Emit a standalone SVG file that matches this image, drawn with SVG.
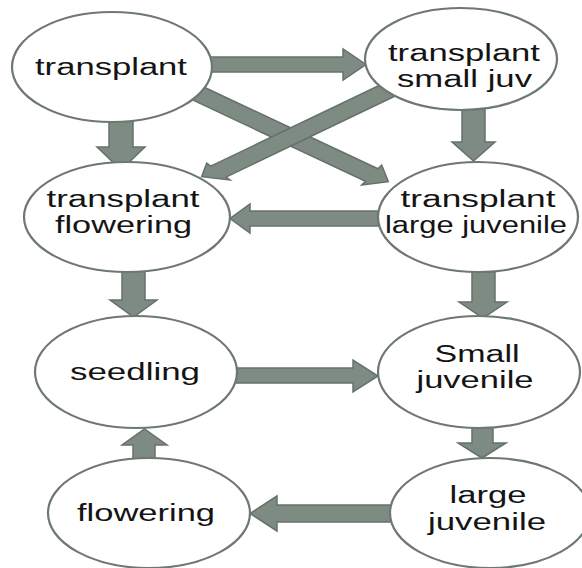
<svg xmlns="http://www.w3.org/2000/svg" width="582" height="568" viewBox="0 0 582 568">
<style>
.arrow{fill:#7e8b83;stroke:#66716b;stroke-width:1.5;stroke-linejoin:miter}
.node ellipse{fill:#ffffff;stroke:#6e7872;stroke-width:2.2}
.node text{font-family:"Liberation Sans",Arial,sans-serif;font-size:23px;fill:#141414;text-anchor:middle}
</style>
<rect width="582" height="568" fill="#ffffff"/>
<g id="connectors">
<polygon class="arrow" points="205,57 343,57 343,49 366,64.5 343,80 343,72 205,72"/>
<polygon class="arrow" points="109,118 133,118 133,147 145,147 121,170 97,147 109,147"/>
<polygon class="arrow" points="462,105 485,105 485,142 495,142 473.5,161 452,142 462,142"/>
<polygon class="arrow" points="380,211 250,211 250,204 230,218.5 250,233 250,226 380,226"/>
<polygon class="arrow" points="198.4,84.5 377.9,168.8 381.7,165 388.3,181.7 361.7,185 365.5,181.2 191.6,99.5"/>
<polygon class="arrow" points="388.5,81 210.7,166.2 206.7,163.3 201.7,176.7 230,180 226,177.1 395.5,95.8"/>
<polygon class="arrow" points="122,268 145,268 145,300 157,300 133.5,317 110,300 122,300"/>
<polygon class="arrow" points="472,268 495,268 495,302 507,302 483,318 459,302 472,302"/>
<polygon class="arrow" points="234,368 353,368 353,360 378,376 353,392 353,383 234,383"/>
<polygon class="arrow" points="472,425 493,425 493,443 506,443 482,458 458,443 472,443"/>
<polygon class="arrow" points="392,505 277,505 277,496 250,513.5 277,531 277,522 392,522"/>
<polygon class="arrow" points="133,462 155,462 155,445 167,445 144.5,429 122,445 133,445"/>
</g>
<g id="node-transplant" class="node">
<ellipse cx="112" cy="67" rx="100" ry="55"/>
<text x="111" y="75" textLength="152" lengthAdjust="spacingAndGlyphs">transplant</text>
</g>
<g id="node-transplant-small-juv" class="node">
<ellipse cx="461" cy="59" rx="96" ry="51"/>
<text x="464" y="60.5" textLength="152" lengthAdjust="spacingAndGlyphs">transplant</text>
<text x="464.5" y="86.5" textLength="135" lengthAdjust="spacingAndGlyphs">small juv</text>
</g>
<g id="node-transplant-flowering" class="node">
<ellipse cx="127" cy="217" rx="103" ry="55"/>
<text x="123" y="207" textLength="153" lengthAdjust="spacingAndGlyphs">transplant</text>
<text x="123.5" y="233" textLength="137" lengthAdjust="spacingAndGlyphs">flowering</text>
</g>
<g id="node-transplant-large-juvenile" class="node">
<ellipse cx="478" cy="217" rx="100" ry="55"/>
<text x="478" y="206.5" textLength="155" lengthAdjust="spacingAndGlyphs">transplant</text>
<text x="476" y="232.5" textLength="182" lengthAdjust="spacingAndGlyphs">large juvenile</text>
</g>
<g id="node-seedling" class="node">
<ellipse cx="136" cy="372" rx="101" ry="56"/>
<text x="135" y="380" textLength="130" lengthAdjust="spacingAndGlyphs">seedling</text>
</g>
<g id="node-small-juvenile" class="node">
<ellipse cx="479" cy="372" rx="101" ry="56"/>
<text x="477" y="361.5" textLength="85" lengthAdjust="spacingAndGlyphs">Small</text>
<text x="475" y="387.5" textLength="117" lengthAdjust="spacingAndGlyphs">juvenile</text>
</g>
<g id="node-flowering" class="node">
<ellipse cx="149" cy="513" rx="101" ry="55"/>
<text x="146" y="521" textLength="138" lengthAdjust="spacingAndGlyphs">flowering</text>
</g>
<g id="node-large-juvenile" class="node">
<ellipse cx="490" cy="513" rx="100" ry="55"/>
<text x="488" y="503" textLength="77" lengthAdjust="spacingAndGlyphs">large</text>
<text x="487" y="530" textLength="118" lengthAdjust="spacingAndGlyphs">juvenile</text>
</g>
</svg>
